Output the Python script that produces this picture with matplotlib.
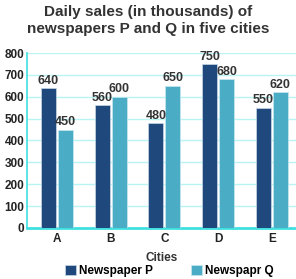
import numpy as np
import matplotlib.pyplot as plt

plt.rcParams['font.family'] = ['Liberation Sans', 'DejaVu Sans']

cities = ['A', 'B', 'C', 'D', 'E']
paper_p = [640, 560, 480, 750, 550]
paper_q = [450, 600, 650, 680, 620]

x = np.arange(len(cities))
w = 0.28
off = 0.158

fig = plt.figure(figsize=(2.96, 2.79), dpi=100)
ax = fig.add_axes([0.091, 0.183, 0.909, 0.627])

bp = ax.bar(x - off, paper_p, w, color='#1f497d', edgecolor='#c8d8e8', linewidth=0.5,
            label='Newspaper P', zorder=3)
bq = ax.bar(x + off, paper_q, w, color='#4bacc6', edgecolor='#c8e8f0', linewidth=0.5,
            label='Newspapr Q', zorder=3)

for bars in (bp, bq):
    for b in bars:
        ax.text(b.get_x() + b.get_width() / 2, b.get_height() + 6, f'{int(b.get_height())}',
                ha='center', va='bottom', fontsize=9, fontweight='bold', color='#333333')

ax.set_xlim(-0.56, 4.45)
ax.set_ylim(0, 800)
ax.set_yticks(range(0, 801, 100))
ax.set_xticks(x)
ax.set_xticklabels(cities)
ax.tick_params(axis='both', length=0, labelsize=8.5, colors='#222222', pad=2)
for t in ax.get_xticklabels() + ax.get_yticklabels():
    t.set_fontweight('bold')
ax.tick_params(axis='x', pad=4)

ax.grid(axis='y', color='#b8f4f4', linewidth=1, zorder=0)
for s in ('top', 'right'):
    ax.spines[s].set_visible(False)
ax.spines['left'].set_color('#40e0e0')
ax.spines['left'].set_linewidth(1.2)
ax.spines['bottom'].set_color('#40e0e0')
ax.spines['bottom'].set_linewidth(2)

ax.set_xlabel('Cities', fontsize=8.5, fontweight='bold', color='#333333', labelpad=5)
fig.suptitle('Daily sales (in thousands) of\nnewspapers P and Q in five cities',
             fontsize=11, fontweight='bold', color='#333333', y=0.982, linespacing=1.3)

ax.legend(loc='center', bbox_to_anchor=(0.53, -0.245), ncol=2, frameon=False,
          prop={'weight': 'bold', 'size': 8.5}, handlelength=0.9, handleheight=0.9,
          handletextpad=0.3, columnspacing=3.2)

fig.savefig('out.png', dpi=100)
